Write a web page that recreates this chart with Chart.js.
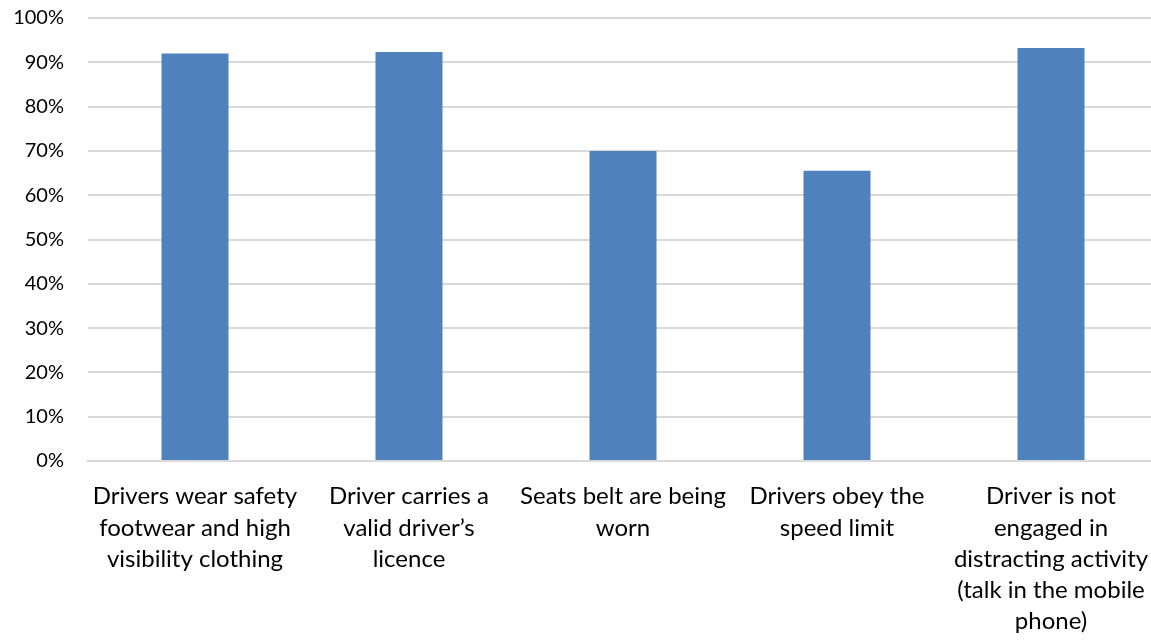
<!DOCTYPE html>
<html>
<head>
<meta charset="utf-8">
<script src="https://cdn.jsdelivr.net/npm/chart.js@4/dist/chart.umd.min.js"></script>
<style>
  html, body { margin: 0; padding: 0; background: #fff; overflow: hidden; }
  #wrap { width: 1160px; height: 641px; }
</style>
</head>
<body>
<div id="wrap"><canvas id="chart"></canvas></div>
<script>
const categories = [
  ["Drivers wear safety", "footwear and high", "visibility clothing"],
  ["Driver carries a", "valid driver\u2019s", "licence"],
  ["Seats belt are being", "worn"],
  ["Drivers obey the", "speed limit"],
  ["Driver is not", "engaged in", "distracting activity", "(talk in the mobile", "phone)"]
];
const compliance = [92.0, 92.3, 70.0, 65.5, 93.2];
const yTicks = [0, 10, 20, 30, 40, 50, 60, 70, 80, 90, 100];

const ctx = document.getElementById("chart").getContext("2d");

new Chart(ctx, {
  type: "bar",
  data: {
    labels: categories,
    datasets: [{
      label: "Compliance",
      data: compliance,
      backgroundColor: "#4F81BD",
      borderWidth: 0,
      barPercentage: 0.313,
      categoryPercentage: 1.0
    }]
  },
  options: {
    responsive: true,
    maintainAspectRatio: false,
    animation: false,
    layout: { padding: { top: 18, right: 2, left: 0, bottom: 0 } },
    plugins: {
      legend: { display: false },
      tooltip: { enabled: false }
    },
    scales: {
      x: {
        grid: { display: false, drawTicks: false },
        border: { display: true, color: "#d9d9d9", width: 2 },
        ticks: {
          color: "#000",
          font: { family: "Lato", size: 24, lineHeight: 1.3 },
          maxRotation: 0,
          autoSkip: false,
          padding: 20
        },
        afterFit: (scale) => {
          scale.height = 180;
          scale.paddingLeft = 0;
          scale.paddingRight = 0;
        }
      },
      y: {
        min: 0,
        max: 100,
        afterBuildTicks: (scale) => { scale.ticks = yTicks.map(v => ({ value: v })); },
        grid: { color: "#d9d9d9", lineWidth: 2, drawTicks: false },
        border: { display: false },
        ticks: {
          color: "#000",
          font: { family: "Lato", size: 20 },
          padding: 24,
          callback: (v) => v + "%"
        },
        afterFit: (scale) => {
          scale.width = 88;
          scale.paddingTop = 0;
          scale.paddingBottom = 0;
        }
      }
    }
  }
});
</script>
</body>
</html>
